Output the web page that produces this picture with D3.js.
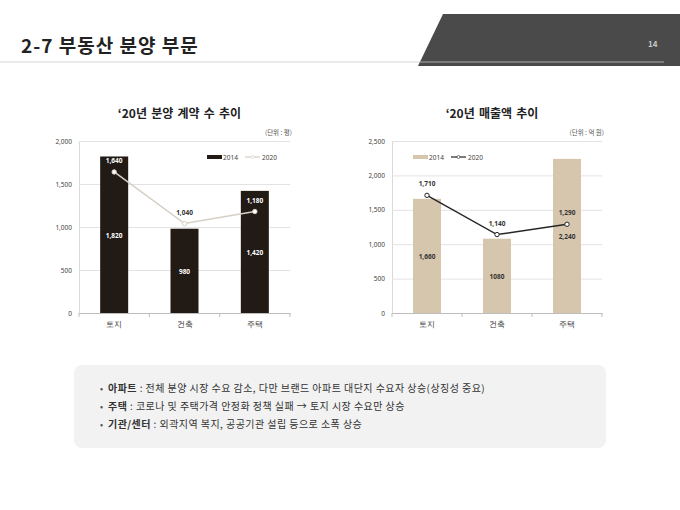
<!DOCTYPE html>
<html>
<head>
<meta charset="utf-8">
<script src="https://cdn.jsdelivr.net/npm/d3@7"></script>
<style>
  html, body { margin: 0; padding: 0; background: #fff; }
  svg { display: block; font-family: "Noto Sans CJK KR", "Noto Sans", sans-serif; }
</style>
</head>
<body>
<svg id="page" width="680" height="510"></svg>
<script>
const categories = ["토지", "건축", "주택"];
const series = ["2014", "2020"];

// '20년 분양 계약 수 추이 (단위: 평)
const contract2014 = [1820, 980, 1420];
const contract2020 = [1640, 1040, 1180];
const contractTicks = [0, 500, 1000, 1500, 2000];

// '20년 매출액 추이 (단위: 억 원)
const sales2014 = [1660, 1080, 2240];
const sales2020 = [1710, 1140, 1290];
const salesTicks = [0, 500, 1000, 1500, 2000, 2500];
const salesBarLabels = ["1,660", "1080", "2,240"];

const notes = [
  ["아파트", " : 전체 분양 시장 수요 감소, 다만 브랜드 아파트 대단지 수요자 상승(상징성 중요)"],
  ["주택", " : 코로나 및 주택가격 안정화 정책 실패 → 토지 시장 수요만 상승"],
  ["기관/센터", " : 외곽지역 복지, 공공기관 설립 등으로 소폭 상승"]
];

const svg = d3.select("#page");
const fmt = d3.format(",");

// header
svg.append("line").attr("x1", 0).attr("x2", 425).attr("y1", 62).attr("y2", 62)
  .attr("stroke", "#e4e4e4").attr("stroke-width", 1.5);
svg.append("path")
  .attr("d", "M443,14 L680,14 L680,66 L418,66 Z")
  .attr("fill", "#4a4a4a");
svg.append("line").attr("x1", 420).attr("x2", 664).attr("y1", 62).attr("y2", 62)
  .attr("stroke", "#8c8c8c").attr("stroke-width", 1.5);
svg.append("text").attr("x", 21).attr("y", 53)
  .attr("font-size", 19).attr("font-weight", 700).attr("fill", "#222")
  .attr("letter-spacing", 1)
  .text("2-7 부동산 분양 부문");
svg.append("text").attr("x", 648).attr("y", 47)
  .attr("font-size", 8).attr("font-weight", 700).attr("fill", "#c8c8c8")
  .text("14");

function drawChart(opt) {
  const g = svg.append("g");
  const x = d3.scaleBand().domain(categories).range([opt.x0, opt.x1]);
  const y = d3.scaleLinear().domain([0, opt.max]).range([313, 141]);
  const barW = 28;

  g.append("text").attr("x", (opt.x0 + opt.x1) / 2 - 5).attr("y", 118)
    .attr("text-anchor", "middle").attr("font-size", 12).attr("font-weight", 700)
    .attr("fill", "#222").attr("word-spacing", 1.5).text(opt.title);
  g.append("text").attr("x", opt.x1 + 2).attr("y", 135)
    .attr("text-anchor", "end").attr("font-size", 6.5).attr("fill", "#555")
    .text(opt.unit);

  // gridlines + y labels
  const yAxis = d3.axisLeft(y).tickValues(opt.ticks).tickSize(-(opt.x1 - opt.x0))
    .tickFormat(fmt).tickPadding(7);
  const ya = g.append("g").attr("transform", `translate(${opt.x0},0)`).call(yAxis);
  ya.select(".domain").attr("stroke", "#d9d9d9");
  ya.selectAll(".tick line").attr("stroke", "#e3e3e3");
  ya.selectAll(".tick text").attr("font-size", 6.5).attr("fill", "#444")
    .attr("font-family", "Noto Sans, sans-serif");

  // x axis
  const xa = g.append("g").attr("transform", "translate(0,313)")
    .call(d3.axisBottom(x).tickSize(0).tickPadding(9));
  xa.select(".domain").attr("stroke", "#bdbdbd");
  xa.selectAll(".tick text").attr("font-size", 7.5).attr("fill", "#333");
  categories.concat([null]).forEach(c => {
    const xp = c === null ? opt.x1 : x(c);
    g.append("line").attr("x1", xp).attr("x2", xp).attr("y1", 313).attr("y2", 317)
      .attr("stroke", "#bdbdbd");
  });

  // bars
  g.selectAll(".bar").data(opt.bars).join("rect")
    .attr("x", (d, i) => x(categories[i]) + x.bandwidth() / 2 - barW / 2)
    .attr("y", d => y(d)).attr("width", barW).attr("height", d => y(0) - y(d))
    .attr("fill", opt.barColor);
  g.selectAll(".barlabel").data(opt.bars).join("text")
    .attr("x", (d, i) => x(categories[i]) + x.bandwidth() / 2)
    .attr("y", d => (y(d) + y(0)) / 2 + 3)
    .attr("text-anchor", "middle").attr("font-size", 6.5).attr("font-weight", 700)
    .attr("fill", opt.barTextColor).attr("font-family", "Noto Sans, sans-serif")
    .text((d, i) => opt.barLabels ? opt.barLabels[i] : fmt(d));

  // line
  const cx = (d, i) => x(categories[i]) + x.bandwidth() / 2;
  const line = d3.line().x(cx).y(d => y(d));
  g.append("path").datum(opt.line).attr("d", line)
    .attr("fill", "none").attr("stroke", opt.lineColor).attr("stroke-width", 1.5);
  g.selectAll(".pt").data(opt.line).join("circle")
    .attr("cx", cx).attr("cy", d => y(d)).attr("r", 2.2)
    .attr("fill", opt.markerFill).attr("stroke", opt.lineColor).attr("stroke-width", 1);
  g.selectAll(".ptlabel").data(opt.line).join("text")
    .attr("x", cx).attr("y", d => y(d) - 9)
    .attr("text-anchor", "middle").attr("font-size", 6.5).attr("font-weight", 700)
    .attr("fill", (d, i) => opt.lineTextColors[i]).attr("font-family", "Noto Sans, sans-serif")
    .text(d => fmt(d));

  // legend
  const lx = opt.legendX, ly = 157;
  g.append("rect").attr("x", lx).attr("y", ly - 2).attr("width", 15).attr("height", 4)
    .attr("fill", opt.barColor);
  g.append("text").attr("x", lx + 16).attr("y", ly + 2.5).attr("font-size", 6.5)
    .attr("fill", "#444").attr("font-family", "Noto Sans, sans-serif").text(series[0]);
  g.append("line").attr("x1", lx + 38).attr("x2", lx + 53).attr("y1", ly).attr("y2", ly)
    .attr("stroke", opt.lineColor).attr("stroke-width", 1.2);
  g.append("circle").attr("cx", lx + 45.5).attr("cy", ly).attr("r", 1.5)
    .attr("fill", opt.markerFill).attr("stroke", opt.lineColor).attr("stroke-width", 0.6);
  g.append("text").attr("x", lx + 55).attr("y", ly + 2.5).attr("font-size", 6.5)
    .attr("fill", "#444").attr("font-family", "Noto Sans, sans-serif").text(series[1]);
}

drawChart({
  title: "‘20년 분양 계약 수 추이", unit: "(단위 : 평)",
  x0: 79, x1: 290, max: 2000, ticks: contractTicks,
  bars: contract2014, line: contract2020,
  barColor: "#211a15", barTextColor: "#fff",
  lineColor: "#d6cfc4", markerFill: "#fff",
  lineTextColors: ["#fff", "#333", "#fff"],
  legendX: 207
});

drawChart({
  title: "‘20년 매출액 추이", unit: "(단위 : 억 원)",
  x0: 392, x1: 602, max: 2500, ticks: salesTicks,
  bars: sales2014, line: sales2020, barLabels: salesBarLabels,
  barColor: "#d6c6ae", barTextColor: "#333",
  lineColor: "#262626", markerFill: "#fff",
  lineTextColors: ["#333", "#333", "#333"],
  legendX: 413
});

// notes box
svg.append("rect").attr("x", 74).attr("y", 365).attr("width", 532).attr("height", 83)
  .attr("rx", 8).attr("fill", "#f2f2f2");
const nt = svg.append("g");
notes.forEach((n, i) => {
  const yy = 392 + i * 18;
  nt.append("text").attr("x", 100).attr("y", yy).attr("font-size", 9).attr("fill", "#555").text("•");
  const t = nt.append("text").attr("x", 108).attr("y", yy)
    .attr("font-size", 10).attr("fill", "#333").attr("letter-spacing", 0.45);
  t.append("tspan").attr("font-weight", 700).text(n[0]);
  t.append("tspan").text(n[1]);
});
</script>
</body>
</html>
